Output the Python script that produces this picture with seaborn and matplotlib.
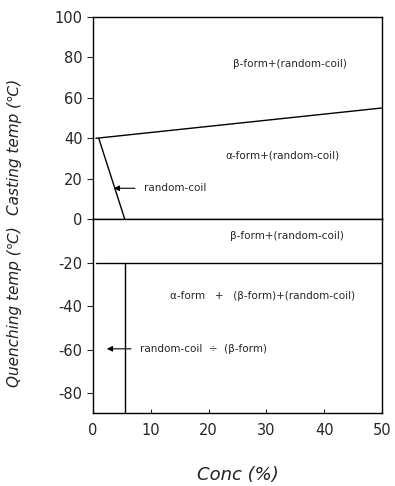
import matplotlib
matplotlib.use("Agg")
import matplotlib.pyplot as plt
import seaborn as sns
import pandas as pd

sns.set_style("ticks")
plt.rcParams['font.family'] = ['DejaVu Sans']
plt.rcParams['axes.unicode_minus'] = False

# Phase boundaries (Conc %, Temp C)
upper_conc = [0.5, 50]
upper_temp = [40, 55]
diag_conc = [1, 5.5]
diag_temp = [40, 0]
quench_conc = [0.5, 50]
quench_temp = [-20, -20]
vert_conc = [5.5, 5.5]
vert_temp = [-20, -89]

x_ticks = [0, 10, 20, 30, 40, 50]
top_ticks = [0, 20, 40, 60, 80, 100]
bot_ticks = [-20, -40, -60, -80]

top_labels = [("β-form+(random-coil)", 34, 77), ("α-form+(random-coil)", 32.8, 31.5)]
bot_labels = [("β-form+(random-coil)", 33.6, -7.8),
              ("α-form   +   (β-form)+(random-coil)", 29.4, -35.3)]

fig = plt.figure(figsize=(3.95, 4.86), dpi=100)
ax1 = fig.add_axes([0.2354, 0.549, 0.7316, 0.416])
ax2 = fig.add_axes([0.2354, 0.150, 0.7316, 0.399])

lw = 1.0
kw = dict(color='black', lw=lw, sort=False, estimator=None)
sns.lineplot(x=upper_conc, y=upper_temp, ax=ax1, **kw)
sns.lineplot(x=diag_conc, y=diag_temp, ax=ax1, **kw)
sns.lineplot(x=quench_conc, y=quench_temp, ax=ax2, **kw)
sns.lineplot(x=vert_conc, y=vert_temp, ax=ax2, **kw)

for ax in (ax1, ax2):
    ax.set_xlim(0.5, 50)
    for s in ax.spines.values():
        s.set_visible(True)
        s.set_linewidth(1.0)
        s.set_color('black')
    ax.tick_params(axis='y', direction='out', length=4, labelsize=10.5, width=0.8)
    ax.tick_params(axis='x', direction='in', length=3, labelsize=10.5, width=0.8)
    ax.set_xticks(x_ticks)

ax1.set_ylim(0, 100)
ax1.set_yticks(top_ticks)
ax1.set_xticklabels([])
ax1.tick_params(axis='x', length=0)
ax2.set_ylim(-89, 0)
ax2.set_yticks(bot_ticks)
ax2.set_xticklabels([str(t) for t in x_ticks])
ax2.tick_params(axis='x', pad=7)

fs = 7.5
for t, x, y in top_labels:
    ax1.text(x, y, t, ha='center', va='center', fontsize=fs)
for t, x, y in bot_labels:
    ax2.text(x, y, t, ha='center', va='center', fontsize=fs)

ax1.annotate("random-coil", xy=(3.6, 15.3), xytext=(8.8, 15.3), fontsize=fs,
             va='center', ha='left',
             arrowprops=dict(arrowstyle='-|>', color='black', lw=0.8,
                             shrinkA=4, shrinkB=0, mutation_scale=8))
ax2.annotate("random-coil  ÷  (β-form)", xy=(2.4, -59.5), xytext=(8.1, -59.5), fontsize=fs,
             va='center', ha='left',
             arrowprops=dict(arrowstyle='-|>', color='black', lw=0.8,
                             shrinkA=4, shrinkB=0, mutation_scale=8))

ax1.set_ylabel("Casting temp (℃)", fontsize=11, style='italic', color='#222222')
ax1.yaxis.set_label_coords(-0.245, 0.36)
ax2.set_ylabel("Quenching temp (℃)", fontsize=11, style='italic', color='#222222')
ax2.yaxis.set_label_coords(-0.245, 0.55)
ax2.set_xlabel("Conc (%)", fontsize=13, style='italic', color='#222222', labelpad=20)

fig.savefig("out.png", dpi=100)
